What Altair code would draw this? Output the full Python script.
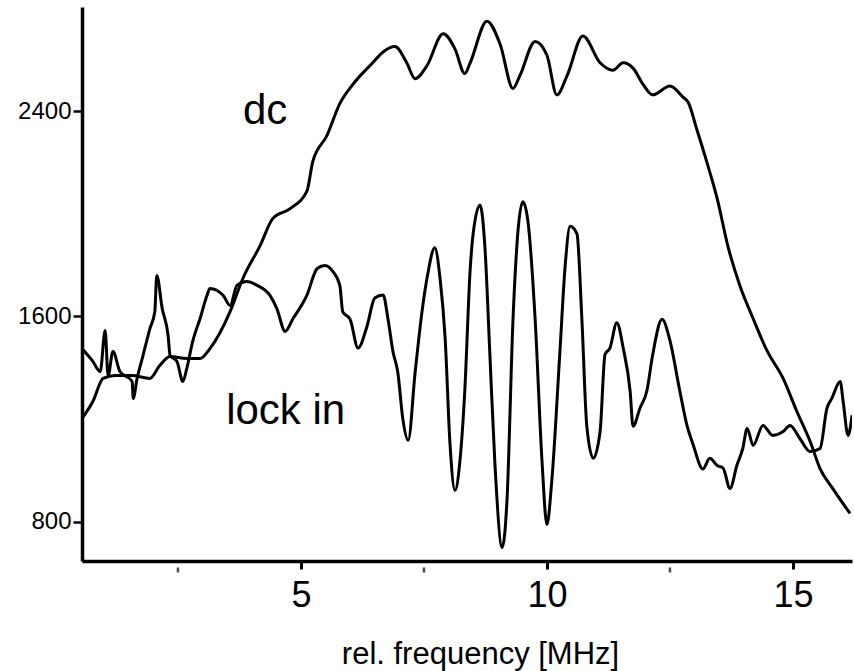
import altair as alt
import pandas as pd

# dc signal (x in MHz, y in counts)
dc_x = [0.55, 0.77, 0.98, 1.22, 1.57, 1.93, 2.13, 2.34, 2.68, 2.95, 3.15, 3.56, 3.82, 4.17,
        4.43, 4.78, 5.12, 5.24, 5.53, 5.79, 6.06, 6.46, 6.67, 6.91, 7.15, 7.32, 7.56, 7.89,
        8.13, 8.33, 8.44, 8.78, 9.05, 9.31, 9.45, 9.76, 10.00, 10.20, 10.41, 10.73, 11.08,
        11.34, 11.55, 11.75, 11.95, 12.15, 12.50, 12.76, 12.87, 13.05, 13.25, 13.46, 13.68,
        13.92, 14.19, 14.47, 14.80, 15.08, 15.35, 15.55, 15.81, 16.16]
dc_y = [1203, 1269, 1359, 1370, 1370, 1359, 1409, 1444, 1436, 1436, 1475, 1619, 1748, 1876,
        1982, 2020, 2087, 2203, 2305, 2429, 2505, 2588, 2630, 2651, 2588, 2526, 2576, 2701,
        2642, 2546, 2588, 2750, 2659, 2488, 2538, 2671, 2617, 2463, 2538, 2692, 2588,
        2559, 2588, 2567, 2505, 2463, 2497, 2455, 2434, 2326, 2201, 2059, 1872,
        1721, 1592, 1468, 1359, 1230, 1113, 1008, 930, 833]

# lock-in signal
li_x = [0.55, 0.77, 0.92, 1.02, 1.08, 1.18, 1.32, 1.57, 1.59, 1.67, 1.79, 1.93, 2.03, 2.07,
        2.18, 2.30, 2.34, 2.48, 2.60, 2.68, 2.80, 2.95, 3.09, 3.15, 3.42, 3.56, 3.70, 3.90,
        4.11, 4.37, 4.51, 4.68, 4.84, 5.12, 5.33, 5.49, 5.65, 5.79, 5.85, 6.00, 6.16, 6.34,
        6.50, 6.67, 6.77, 6.87, 6.97, 7.07, 7.18, 7.32, 7.46, 7.58, 7.72, 7.83, 7.93, 8.03,
        8.13, 8.23, 8.33, 8.44, 8.50, 8.64, 8.74, 8.84, 8.94, 9.09, 9.19, 9.31, 9.51, 9.61,
        9.76, 9.90, 10.00, 10.10, 10.26, 10.37, 10.47, 10.61, 10.71, 10.81, 10.94, 11.08,
        11.18, 11.28, 11.42, 11.55, 11.69, 11.75, 11.89, 12.03, 12.15, 12.34, 12.50, 12.70,
        12.85, 12.97, 13.17, 13.31, 13.46, 13.58, 13.72, 13.86, 13.98, 14.07, 14.19, 14.39,
        14.59, 14.80, 14.94, 15.14, 15.35, 15.55, 15.69, 15.79, 15.96, 16.02, 16.12, 16.20]
li_y = [1475, 1425, 1386, 1545, 1370, 1464, 1386, 1347, 1281, 1359, 1448, 1553, 1619, 1760,
        1631, 1526, 1448, 1425, 1347, 1398, 1503, 1592, 1682, 1709, 1682, 1643, 1721, 1736,
        1721, 1682, 1631, 1542, 1592, 1682, 1787, 1799, 1775, 1721, 1618, 1589, 1477, 1560,
        1672, 1684, 1589, 1464, 1381, 1202, 1118, 1381, 1618, 1768, 1868, 1743, 1518, 1102,
        923, 1035, 1310, 1785, 1922, 2034, 1868, 1452, 1035, 700, 893, 1589, 2047, 1976,
        1589, 1035, 790, 964, 1452, 1797, 1951, 1922, 1589, 1173, 1048, 1152,
        1452, 1477, 1576, 1477, 1310, 1173, 1243, 1310, 1452, 1589, 1506, 1310,
        1173, 1102, 1006, 1048, 1020, 1010, 930, 1020, 1086, 1164, 1098, 1176,
        1137, 1152, 1176, 1125, 1074, 1086, 1242, 1281, 1347, 1269, 1137, 1215]

label_text = ["dc", "lock in"]
label_x = [3.82, 3.48]
label_y = [2350, 1180]

x_ticks = [5, 10, 15]
x_minor = [2.5, 7.5, 12.5]
y_ticks = [800, 1600, 2400]
x_domain = [0.55, 16.2]
y_domain = [648, 2805]

df = pd.concat([
    pd.DataFrame({"x": dc_x, "y": dc_y, "series": "dc"}),
    pd.DataFrame({"x": li_x, "y": li_y, "series": "lock in"}),
])
labels = pd.DataFrame({"x": label_x, "y": label_y, "t": label_text})
minor = pd.DataFrame({"x": x_minor})

FONT = "Liberation Sans"

xs = alt.Scale(domain=x_domain, nice=False, zero=False)
ys = alt.Scale(domain=y_domain, nice=False, zero=False)

lines = alt.Chart(df).mark_line(color="black", strokeWidth=3, clip=True,
                                interpolate="monotone").encode(
    x=alt.X("x:Q", scale=xs, axis=alt.Axis(
        values=x_ticks, title="rel. frequency [MHz]", grid=False,
        labelFont=FONT, labelFontSize=36, labelColor="black", labelPadding=9,
        tickSize=8, tickWidth=3, tickColor="black",
        domainColor="black", domainWidth=3.5,
        titleFont=FONT, titleFontSize=31, titleFontWeight="normal", titleColor="black",
        titleX=398, titleY=102, titleBaseline="alphabetic", titleAnchor="middle", titleAlign="center")),
    y=alt.Y("y:Q", scale=ys, axis=alt.Axis(
        values=y_ticks, format="d", title=None, grid=False,
        labelFont=FONT, labelFontSize=24, labelColor="black", labelPadding=2,
        tickSize=9, tickWidth=2.5, tickColor="black",
        domainColor="black", domainWidth=3.5)),
    detail="series:N",
    order="x:Q",
)

minor_ticks = alt.Chart(minor).mark_tick(
    color="black", thickness=2.5, size=5, orient="vertical"
).encode(
    x=alt.X("x:Q", scale=xs),
    y=alt.value(563),
)

texts = alt.Chart(labels).mark_text(
    font=FONT, fontSize=42, color="black", align="left", baseline="alphabetic"
).encode(
    x=alt.X("x:Q", scale=xs),
    y=alt.Y("y:Q", scale=ys),
    text="t:N",
)

chart = alt.layer(lines, minor_ticks, texts).properties(
    width=770, height=554,
    autosize=alt.AutoSizeParams(type="none"),
    padding={"left": 82, "top": 7, "right": 2, "bottom": 110},
    background="white",
).configure_view(stroke=None)

chart.save("out.html", embed_options={"renderer": "svg", "actions": False})
